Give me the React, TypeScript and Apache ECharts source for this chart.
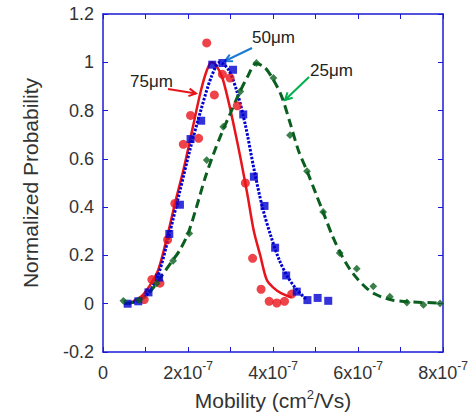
import React, { useEffect, useRef } from "react";
import * as echarts from "echarts";

// Mobility values are in units of 1e-7 cm^2/Vs
const red75Points: [number, number][] = [
  [2.44, 1.08], [2.81, 0.95], [2.99, 0.935], [2.62, 0.865], [2.06, 0.78], [1.89, 0.66],
  [2.25, 0.685], [3.16, 0.82], [3.35, 0.5], [1.69, 0.415], [1.52, 0.265], [1.15, 0.1],
  [1.34, 0.085], [0.97, 0.017], [3.52, 0.188], [3.72, 0.06], [3.91, 0.01], [4.09, 0.003],
  [4.27, 0.01], [4.44, 0.04],
];
const blue50Points: [number, number][] = [
  [0.58, 0.0], [0.83, 0.01], [1.07, 0.047], [1.32, 0.108], [1.56, 0.289], [1.81, 0.41],
  [2.06, 0.682], [2.31, 0.758], [2.57, 0.99], [2.81, 0.997], [3.06, 0.969], [3.3, 0.784],
  [3.55, 0.526], [3.8, 0.405], [4.05, 0.232], [4.31, 0.117], [4.56, 0.05], [4.81, 0.015],
  [5.05, 0.024], [5.3, 0.012],
];
const green25Points: [number, number][] = [
  [0.48, 0.012], [0.85, 0.015], [1.26, 0.084], [1.65, 0.178], [2.03, 0.291], [2.44, 0.595],
  [2.83, 0.733], [3.23, 0.879], [3.61, 0.997], [4.01, 0.935], [4.4, 0.698], [4.8, 0.549],
  [5.18, 0.38], [5.57, 0.21], [5.97, 0.145], [6.36, 0.072], [6.75, 0.029], [7.15, 0.005],
  [7.54, -0.005], [7.93, 0.001],
];

const redFitX = [0.7, 0.9, 1.1, 1.3, 1.5, 1.7, 1.9, 2.1, 2.3, 2.45, 2.55, 2.65, 2.8, 2.95, 3.1, 3.25, 3.4, 3.55, 3.7, 3.85, 4.0, 4.2, 4.44];
const redFitY = [0.01, 0.03, 0.075, 0.14, 0.27, 0.42, 0.56, 0.72, 0.88, 0.97, 1.0, 0.99, 0.94, 0.84, 0.72, 0.59, 0.45, 0.3, 0.2, 0.1, 0.068, 0.043, 0.026];

const blueFitX = [0.6, 0.85, 1.07, 1.3, 1.55, 1.8, 2.05, 2.3, 2.55, 2.75, 2.95, 3.15, 3.35, 3.55, 3.75, 3.95, 4.15, 4.35, 4.55, 4.8];
const blueFitY = [0.0, 0.015, 0.045, 0.12, 0.28, 0.46, 0.64, 0.8, 0.94, 1.0, 0.97, 0.88, 0.74, 0.56, 0.4, 0.28, 0.18, 0.11, 0.06, 0.015];

const greenFitX = [0.5, 0.8, 1.0, 1.2, 1.4, 1.6, 1.8, 2.0, 2.2, 2.4, 2.6, 2.8, 3.0, 3.2, 3.4, 3.6, 3.8, 4.0, 4.2, 4.4, 4.6, 4.8, 5.0, 5.2, 5.4, 5.6, 5.8, 6.0, 6.2, 6.4, 6.6, 6.8, 7.2, 7.9];
const greenFitY = [0.0, 0.01, 0.03, 0.07, 0.12, 0.17, 0.22, 0.29, 0.4, 0.52, 0.62, 0.71, 0.79, 0.87, 0.94, 0.995, 0.98, 0.93, 0.86, 0.75, 0.634, 0.55, 0.46, 0.37, 0.28, 0.205, 0.145, 0.1, 0.065, 0.04, 0.025, 0.015, 0.008, 0.003];

const labels = { red: "75μm", blue: "50μm", green: "25μm" };

const RED = "#e8141c";
const BLUE = "#0000d0";
const GREEN = "#0a5f1e";
const AXIS = "#1a1ad6";
const FONT = "Liberation Sans, Arial, sans-serif";

const zip = (xs: number[], ys: number[]) => xs.map((x, i) => [x, ys[i]]);

export default function App() {
  const ref = useRef<HTMLDivElement>(null);
  useEffect(() => {
    if (!ref.current) return;
    const chart = echarts.init(ref.current, undefined, { renderer: "svg" });
    const axisCommon = {
      axisLine: { show: true, onZero: false, lineStyle: { color: AXIS, width: 1.5 } },
      axisTick: { show: true, inside: true, length: 5, lineStyle: { color: AXIS, width: 1 } },
      splitLine: { show: false },
    };
    const xLabelFmt = (v: number) => {
      const n = Math.round(v);
      if (n % 2 !== 0) return "";
      if (n === 0) return "{b|0}";
      return `{b|${n}x10}{s|-7}`;
    };
    const arrow = (x1: number, y1: number, x2: number, y2: number, color: string) => {
      const dx = x2 - x1, dy = y2 - y1;
      const len = Math.hypot(dx, dy);
      const ux = -dx / len, uy = -dy / len;
      const a = (28 * Math.PI) / 180, L = 8;
      const c = Math.cos(a), s = Math.sin(a);
      const p1 = [x2 + L * (ux * c - uy * s), y2 + L * (ux * s + uy * c)];
      const p2 = [x2 + L * (ux * c + uy * s), y2 + L * (-ux * s + uy * c)];
      return [
        { type: "line", shape: { x1, y1, x2, y2 }, style: { stroke: color, lineWidth: 2 } },
        { type: "polyline", shape: { points: [p1, [x2, y2], p2] }, style: { stroke: color, lineWidth: 2, fill: null } },
      ];
    };
    const txt = (x: number, y: number, t: string) => ({
      type: "text", x, y,
      style: { text: t, fill: "#222", font: `17px ${FONT}`, textVerticalAlign: "middle" },
    });
    chart.setOption({
      animation: false,
      grid: { left: 103, right: 33, top: 14, bottom: 65, containLabel: false },
      xAxis: [
        {
          type: "value", min: 0, max: 8, interval: 1, position: "bottom",
          ...axisCommon,
          axisLabel: {
            show: true, margin: 8, formatter: xLabelFmt, color: "#333",
            rich: {
              b: { fontSize: 18, fontFamily: FONT, color: "#333", lineHeight: 22, verticalAlign: "bottom" },
              s: { fontSize: 12, fontFamily: FONT, color: "#333", lineHeight: 22, verticalAlign: "top" },
            },
          },
          name: "Mobility (cm{s|2}/Vs)", nameLocation: "middle", nameGap: 36,
          nameTextStyle: {
            fontSize: 21, fontFamily: FONT, color: "#333",
            rich: {
              s: { fontSize: 13, fontFamily: FONT, color: "#333", verticalAlign: "top", lineHeight: 24 },
            },
          },
        },
        {
          type: "value", min: 0, max: 8, interval: 1, position: "top",
          ...axisCommon, axisLabel: { show: false },
        },
      ],
      yAxis: [
        {
          type: "value", min: -0.2, max: 1.2, interval: 0.2, position: "left",
          ...axisCommon,
          axisLabel: { show: true, margin: 9, fontSize: 18, fontFamily: FONT, color: "#333" },
          name: "Normalized Probability", nameLocation: "middle", nameGap: 62,
          nameTextStyle: { fontSize: 21, fontFamily: FONT, color: "#333" },
        },
        {
          type: "value", min: -0.2, max: 1.2, interval: 0.2, position: "right",
          ...axisCommon, axisLabel: { show: false },
        },
      ],
      series: [
        {
          type: "line", name: "75 fit", data: zip(redFitX, redFitY), smooth: 0.3, showSymbol: false,
          lineStyle: { color: RED, width: 2.5 }, z: 2,
        },
        {
          type: "line", name: "50 fit", data: zip(blueFitX, blueFitY), smooth: 0.3, showSymbol: false,
          lineStyle: { color: BLUE, width: 3, type: [2.5, 1.5] }, z: 2,
        },
        {
          type: "line", name: "25 fit", data: zip(greenFitX, greenFitY), smooth: 0.3, showSymbol: false,
          lineStyle: { color: GREEN, width: 3, type: [9, 5] }, z: 2,
        },
        {
          type: "scatter", name: labels.red, data: red75Points, symbol: "circle", symbolSize: 9,
          itemStyle: { color: RED }, z: 3,
        },
        {
          type: "scatter", name: labels.blue, data: blue50Points, symbol: "rect", symbolSize: 8,
          itemStyle: { color: BLUE }, z: 4,
        },
        {
          type: "scatter", name: labels.green, data: green25Points, symbol: "rect", symbolSize: 5.5,
          symbolRotate: 45, itemStyle: { color: GREEN }, z: 5,
        },
      ],
      graphic: [
        txt(130, 81, labels.red),
        txt(252, 37, labels.blue),
        txt(310, 70, labels.green),
        ...arrow(168, 89, 196, 93.5, "#e8141c"),
        ...arrow(252, 48, 225, 61, "#1a7ad4"),
        ...arrow(309, 77, 285, 100, "#00b050"),
      ],
    });
    return () => chart.dispose();
  }, []);
  return <div ref={ref} style={{ width: 476, height: 417, position: "absolute", left: 0, top: 0 }} />;
}
